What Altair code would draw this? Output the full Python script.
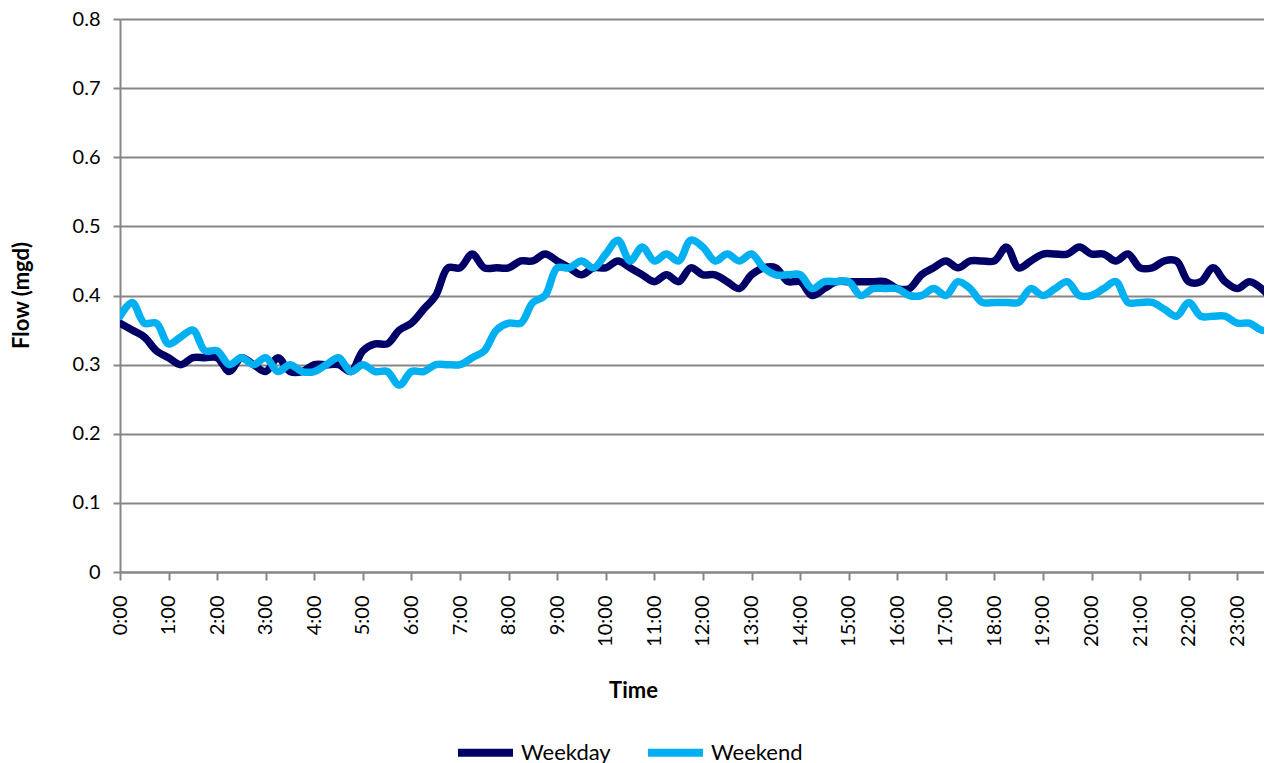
import altair as alt
import pandas as pd

# x positions: 15-minute steps over one day, in hours
hours = [i * 0.25 for i in range(96)]

weekday = [
    0.36, 0.35, 0.34, 0.32, 0.31, 0.30, 0.31, 0.31,
    0.31, 0.29, 0.31, 0.30, 0.29, 0.31, 0.29, 0.29,
    0.30, 0.30, 0.30, 0.29, 0.32, 0.33, 0.33, 0.35,
    0.36, 0.38, 0.40, 0.44, 0.44, 0.46, 0.44, 0.44,
    0.44, 0.45, 0.45, 0.46, 0.45, 0.44, 0.43, 0.44,
    0.44, 0.45, 0.44, 0.43, 0.42, 0.43, 0.42, 0.44,
    0.43, 0.43, 0.42, 0.41, 0.43, 0.44, 0.44, 0.42,
    0.42, 0.40, 0.41, 0.42, 0.42, 0.42, 0.42, 0.42,
    0.41, 0.41, 0.43, 0.44, 0.45, 0.44, 0.45, 0.45,
    0.45, 0.47, 0.44, 0.45, 0.46, 0.46, 0.46, 0.47,
    0.46, 0.46, 0.45, 0.46, 0.44, 0.44, 0.45, 0.45,
    0.42, 0.42, 0.44, 0.42, 0.41, 0.42, 0.41, 0.39,
]

weekend = [
    0.37, 0.39, 0.36, 0.36, 0.33, 0.34, 0.35, 0.32,
    0.32, 0.30, 0.31, 0.30, 0.31, 0.29, 0.30, 0.29,
    0.29, 0.30, 0.31, 0.29, 0.30, 0.29, 0.29, 0.27,
    0.29, 0.29, 0.30, 0.30, 0.30, 0.31, 0.32, 0.35,
    0.36, 0.36, 0.39, 0.40, 0.44, 0.44, 0.45, 0.44,
    0.46, 0.48, 0.45, 0.47, 0.45, 0.46, 0.45, 0.48,
    0.47, 0.45, 0.46, 0.45, 0.46, 0.44, 0.43, 0.43,
    0.43, 0.41, 0.42, 0.42, 0.42, 0.40, 0.41, 0.41,
    0.41, 0.40, 0.40, 0.41, 0.40, 0.42, 0.41, 0.39,
    0.39, 0.39, 0.39, 0.41, 0.40, 0.41, 0.42, 0.40,
    0.40, 0.41, 0.42, 0.39, 0.39, 0.39, 0.38, 0.37,
    0.39, 0.37, 0.37, 0.37, 0.36, 0.36, 0.35, 0.35,
]

series_names = ["Weekday", "Weekend"]
series_colors = ["#000066", "#00B0F0"]

tick_labels = [
    "0:00", "1:00", "2:00", "3:00", "4:00", "5:00", "6:00", "7:00",
    "8:00", "9:00", "10:00", "11:00", "12:00", "13:00", "14:00", "15:00",
    "16:00", "17:00", "18:00", "19:00", "20:00", "21:00", "22:00", "23:00",
]
tick_hours = list(range(24))
y_ticks = [0, 0.1, 0.2, 0.3, 0.4, 0.5, 0.6, 0.7, 0.8]

df = pd.DataFrame({
    "hour": hours + hours,
    "flow": weekday + weekend,
    "series": [series_names[0]] * len(weekday) + [series_names[1]] * len(weekend),
})

FONT = "Lato"
GRAY = "#868686"

label_array = "[" + ",".join("'" + t + "'" for t in tick_labels) + "]"

x_enc = alt.X(
    "hour:Q",
    scale=alt.Scale(domain=[0, 23.55], nice=False, zero=False),
    axis=alt.Axis(
        values=tick_hours,
        labelExpr=label_array + "[datum.value]",
        labelAngle=270,
        labelAlign="right",
        labelBaseline="middle",
        labelPadding=15,
        tickSize=8,
        grid=False,
        title="Time",
        titleX=513,
        titleY=118,
        titleAlign="center",
        titleBaseline="middle",
    ),
)
y_enc = alt.Y(
    "flow:Q",
    scale=alt.Scale(domain=[0, 0.8], nice=False),
    axis=alt.Axis(
        values=y_ticks,
        labelExpr="datum.value == 0 ? '0' : format(datum.value, '.1f')",
        labelPadding=13,
        tickSize=7,
        grid=True,
        title="Flow (mgd)",
        titleAngle=270,
        titleX=-99,
        titleY=276,
        titleAlign="center",
        titleBaseline="middle",
    ),
)
color_enc = alt.Color(
    "series:N",
    scale=alt.Scale(domain=series_names, range=series_colors),
    legend=alt.Legend(
        title=None,
        orient="none",
        legendX=334,
        legendY=702,
        direction="horizontal",
        symbolType="stroke",
        symbolSize=3025,
        symbolStrokeWidth=8,
        labelFont=FONT,
        labelFontSize=22,
        labelColor="#000000",
        labelOffset=4,
        columnPadding=21,
    ),
)

base = alt.Chart(df).mark_line(
    strokeWidth=7.5, interpolate="catmull-rom", strokeCap="round",
    strokeJoin="round", clip=True,
).encode(x=x_enc, y=y_enc, color=color_enc)

wd = base.transform_filter(alt.datum.series == series_names[0])
we = base.transform_filter(alt.datum.series == series_names[1])

chart = alt.layer(wd, we).properties(
    width=1144,
    height=553,
    autosize=alt.AutoSizeParams(type="none"),
    padding={"left": 112, "top": 11, "right": 0, "bottom": 191},
).configure_view(stroke=None).configure_axis(
    domainColor=GRAY,
    domainWidth=2,
    tickColor=GRAY,
    tickWidth=2,
    gridColor=GRAY,
    gridWidth=2,
    labelFont=FONT,
    labelFontSize=20,
    labelColor="#000000",
    titleFont=FONT,
    titleFontSize=22,
    titleFontWeight="bold",
    titleColor="#000000",
)

chart.save("out.html", embed_options={"renderer": "svg", "actions": False})
